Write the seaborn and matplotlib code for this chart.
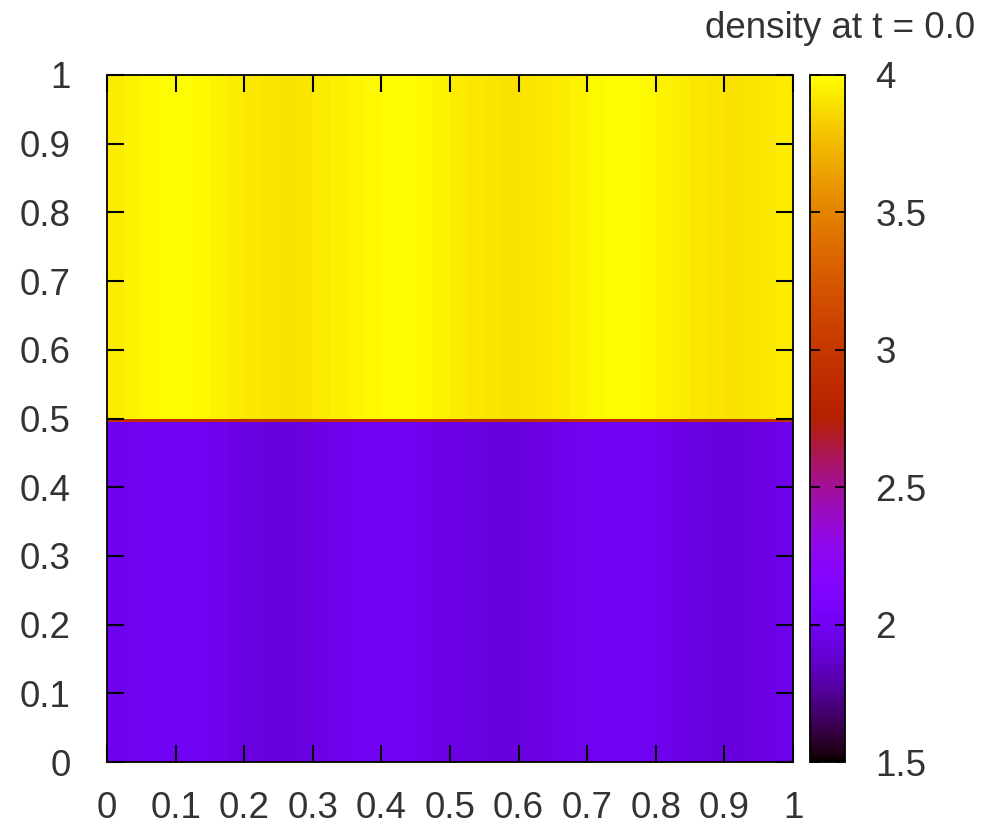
import numpy as np
import pandas as pd
import matplotlib
matplotlib.use("Agg")
import matplotlib.pyplot as plt
import seaborn as sns

sns.set_style("white")
plt.rcParams['font.family'] = ['Liberation Sans', 'DejaVu Sans']

# ---- data ----
title = "density at t = 0.0"
# column profile of density in the upper half (y > 0.5), 40 columns across x in [0, 1]
upper_profile = [3.94, 3.96, 3.98, 3.99, 3.99, 3.98, 3.96, 3.94, 3.92, 3.91,
                 3.90, 3.91, 3.93, 3.95, 3.97, 3.98, 3.99, 3.99, 3.98, 3.96,
                 3.94, 3.92, 3.91, 3.90, 3.91, 3.92, 3.94, 3.96, 3.98, 3.99,
                 3.99, 3.98, 3.96, 3.94, 3.92, 3.91, 3.90, 3.91, 3.92, 3.94]
# column profile of density in the lower half (y < 0.5)
lower_profile = [1.97, 1.98, 1.99, 2.00, 2.00, 1.99, 1.97, 1.95, 1.93, 1.92,
                 1.92, 1.93, 1.95, 1.97, 1.99, 2.00, 2.00, 1.99, 1.97, 1.95,
                 1.94, 1.93, 1.92, 1.92, 1.93, 1.94, 1.96, 1.98, 1.99, 2.00,
                 2.00, 1.99, 1.97, 1.95, 1.93, 1.92, 1.92, 1.93, 1.94, 1.96]
interface_value = 2.9
n_rows_lower = 99
n_rows_interface = 1
n_rows_upper = 100
x_ticks = [0, 0.1, 0.2, 0.3, 0.4, 0.5, 0.6, 0.7, 0.8, 0.9, 1]
x_tick_labels = ["0", "0.1", "0.2", "0.3", "0.4", "0.5", "0.6", "0.7", "0.8", "0.9", "1"]
y_ticks = x_ticks
y_tick_labels = x_tick_labels
cbar_ticks = [1.5, 2, 2.5, 3, 3.5, 4]
cbar_tick_labels = ["1.5", "2", "2.5", "3", "3.5", "4"]
vmin, vmax = 1.5, 4.0

# ---- build grid (row 0 = y near 0) ----
ncols = len(upper_profile)
rows = ([lower_profile] * n_rows_lower
        + [[interface_value] * ncols] * n_rows_interface
        + [upper_profile] * n_rows_upper)
grid = pd.DataFrame(np.array(rows))
nrows = grid.shape[0]

fig = plt.figure(figsize=(9.82, 8.32), dpi=100)
ax = fig.add_axes([107 / 982, 70 / 832, 686 / 982, 687 / 832])
cax = fig.add_axes([810 / 982, 70 / 832, 35 / 982, 687 / 832])

sns.heatmap(grid, ax=ax, cbar_ax=cax, cmap="gnuplot", vmin=vmin, vmax=vmax,
            xticklabels=False, yticklabels=False)
ax.set_ylim(0, nrows)
ax.set_xlim(0, ncols)
ax.set_xlabel("")
ax.set_ylabel("")
ax.set_axisbelow(False)
cax.set_axisbelow(False)

label_color = "#333333"
fs = 26.5
ax.set_xticks([t * ncols for t in x_ticks])
ax.set_xticklabels(x_tick_labels, fontsize=fs, color=label_color)
ax.set_yticks([t * nrows for t in y_ticks])
ax.set_yticklabels(y_tick_labels, fontsize=fs, color=label_color)
ax.tick_params(axis="both", direction="in", length=12, width=1.5, color="black",
               top=True, right=True, bottom=True, left=True)
ax.tick_params(axis="x", pad=21)
ax.tick_params(axis="y", pad=26)
for s in ax.spines.values():
    s.set_visible(True)
    s.set_color("black")
    s.set_linewidth(1.3)
    s.set_zorder(5)

cb = ax.collections[0].colorbar
cb.set_ticks(cbar_ticks)
cb.set_ticklabels(cbar_tick_labels)
cb.outline.set_visible(True)
cb.outline.set_linewidth(1.3)
cb.outline.set_edgecolor("black")
cax.tick_params(axis="y", direction="in", length=7, width=1.3, color="black",
                left=True, right=True, labelleft=False, labelright=True,
                labelsize=fs, labelcolor=label_color, pad=22)

fig.text(975 / 982, 1 - 38 / 832, title, ha="right", va="baseline",
         fontsize=fs, color=label_color)

fig.savefig("out.png", dpi=100)
